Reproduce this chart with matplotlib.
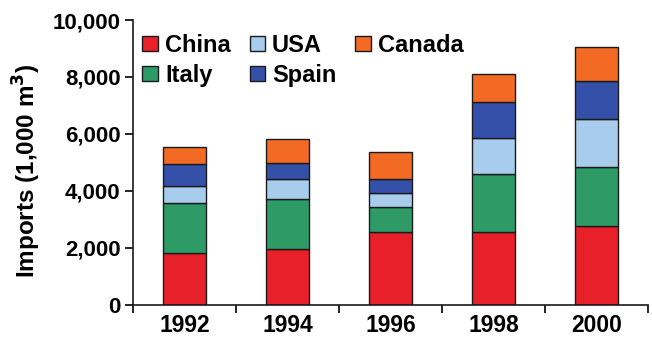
import matplotlib
matplotlib.use("Agg")
import matplotlib.pyplot as plt
import numpy as np

years = ["1992", "1994", "1996", "1998", "2000"]
series_names = ["China", "Italy", "USA", "Spain", "Canada"]
china = [1800, 1940, 2540, 2540, 2760]
italy = [1760, 1760, 880, 2040, 2090]
usa = [610, 730, 500, 1270, 1690]
spain = [760, 540, 500, 1265, 1310]
canada = [620, 855, 960, 985, 1195]
colors = ["#e8202a", "#2e9a66", "#a8cdec", "#3550a8", "#f26a24"]
y_ticks = [0, 2000, 4000, 6000, 8000, 10000]

plt.rcParams["font.family"] = ["Liberation Sans", "DejaVu Sans"]
plt.rcParams["font.weight"] = "bold"

fig = plt.figure(figsize=(6.52, 3.41), dpi=100)
ax = fig.add_axes([0.204, 0.107, 0.79, 0.834])

x = np.arange(len(years))
bottom = np.zeros(len(years))
for name, vals, col in zip(series_names, [china, italy, usa, spain, canada], colors):
    ax.bar(x, vals, width=0.42, bottom=bottom, color=col, edgecolor="#1a1a1a",
           linewidth=1.0, label=name)
    bottom += np.array(vals)

ax.set_xlim(-0.5, len(years) - 0.5)
ax.set_ylim(0, 10000)
ax.set_yticks(y_ticks)
ax.set_yticklabels([f"{v:,}" for v in y_ticks], fontsize=16, fontweight="bold")

# category boundaries carry the tick marks; labels sit at bar centres
ax.set_xticks(np.arange(-0.5, len(years), 1.0))
ax.set_xticklabels([])
ax.set_xticks(x, minor=True)
ax.set_xticklabels(years, minor=True, fontsize=16.5, fontweight="bold")
ax.tick_params(axis="x", which="minor", length=0, pad=7)
ax.tick_params(axis="x", which="major", length=6, width=1.2, direction="out")
ax.tick_params(axis="y", length=6, width=1.2, direction="out", pad=3)

for s in ["top", "right"]:
    ax.spines[s].set_visible(False)
for s in ["left", "bottom"]:
    ax.spines[s].set_linewidth(1.2)
    ax.spines[s].set_color("#1a1a1a")

ax.set_ylabel("Imports (1,000 m$^3$)", fontsize=17.5, fontweight="bold")
ax.yaxis.set_label_coords(-0.175, 0.47)

leg = ax.legend(ncol=3, loc="upper left", bbox_to_anchor=(0.0, 0.985),
                frameon=False, fontsize=17, handlelength=0.65, handleheight=0.65,
                handletextpad=0.3, columnspacing=0.8, labelspacing=0.3,
                borderaxespad=0.0)
for t in leg.get_texts():
    t.set_fontweight("bold")

fig.savefig("out.png", dpi=100)
